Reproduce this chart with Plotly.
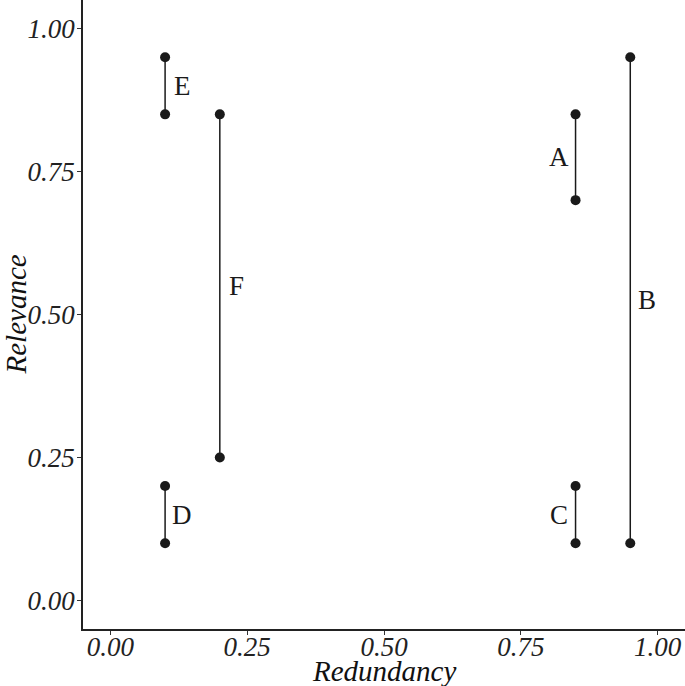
import plotly.graph_objects as go

labels = ["A", "B", "C", "D", "E", "F"]
redundancy = [0.85, 0.95, 0.85, 0.10, 0.10, 0.20]
relevance_low = [0.70, 0.10, 0.10, 0.10, 0.85, 0.25]
relevance_high = [0.85, 0.95, 0.20, 0.20, 0.95, 0.85]
label_side = ["left", "right", "left", "right", "right", "right"]

tick_vals = [0.0, 0.25, 0.5, 0.75, 1.0]
tick_text = ["0.00", "0.25", "0.50", "0.75", "1.00"]

SERIF = "Liberation Serif, Times New Roman, Times, serif"
ink = "#1a1a1a"
fig = go.Figure()
for lab, x, lo, hi in zip(labels, redundancy, relevance_low, relevance_high):
    fig.add_trace(go.Scatter(
        x=[x, x], y=[lo, hi], mode="lines+markers",
        line=dict(color=ink, width=1.5),
        marker=dict(color=ink, size=10),
        showlegend=False, hoverinfo="skip", name=lab,
    ))

for lab, x, lo, hi, side in zip(labels, redundancy, relevance_low, relevance_high, label_side):
    fig.add_annotation(
        x=x, y=(lo + hi) / 2, text=lab, showarrow=False,
        xshift=-17 if side == "left" else 17,
        font=dict(family=SERIF, size=27, color=ink),
    )

axis_common = dict(
    showgrid=False, zeroline=False, showline=True, linecolor="#222222", linewidth=1.5,
    ticks="outside", ticklen=4, tickwidth=1, tickcolor="#333333",
    tickvals=tick_vals, ticktext=tick_text,
    tickfont=dict(family=SERIF, size=27, color="#222222", style="italic"),
    mirror=False, automargin=False,
)
fig.update_xaxes(range=[-0.05, 1.05], ticklabelstandoff=-11, **axis_common)
fig.update_yaxes(range=[-0.05, 1.05], ticklabelstandoff=-3, **axis_common)

fig.add_annotation(
    xref="paper", yref="paper", x=0.5, y=0, text="Redundancy", showarrow=False,
    xanchor="center", yanchor="middle", yshift=-42,
    font=dict(family=SERIF, size=29, color="#111111", style="italic"),
)
fig.add_annotation(
    xref="paper", yref="paper", x=0, y=0.5, text="Relevance", showarrow=False,
    xanchor="center", yanchor="middle", xshift=-68, textangle=-90,
    font=dict(family=SERIF, size=29, color="#111111", style="italic"),
)

fig.update_layout(
    width=685, height=686,
    margin=dict(l=83, r=0, t=0, b=57),
    plot_bgcolor="white", paper_bgcolor="white",
)
fig.write_html(
    "out.html",
    config={"displayModeBar": False},
    post_script="document.body.style.margin='0';document.body.style.overflow='hidden';",
)
